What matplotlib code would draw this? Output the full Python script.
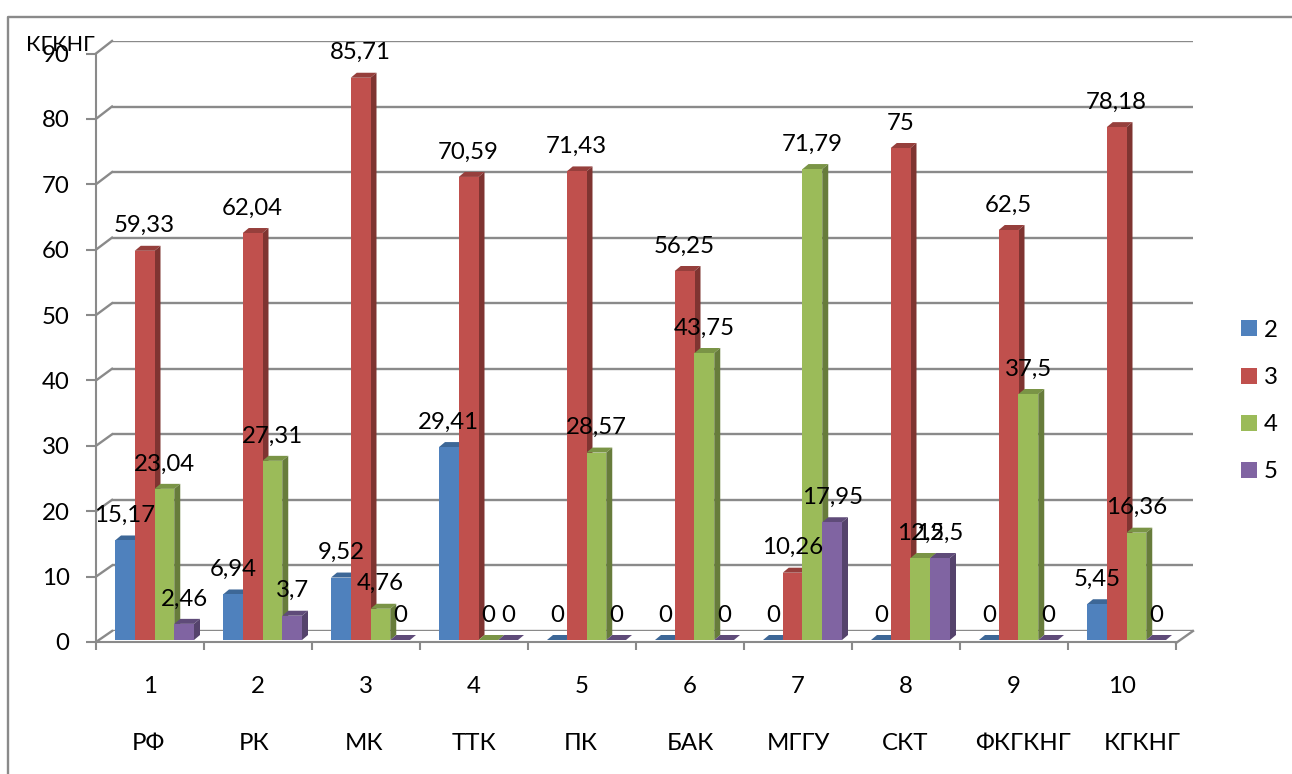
import numpy as np
import matplotlib
matplotlib.use("Agg")
import matplotlib.pyplot as plt

plt.rcParams['font.family'] = ['Lato', 'Noto Sans', 'DejaVu Sans']

W, H = 1292, 774
FS = 17.3

numbers = ["1", "2", "3", "4", "5", "6", "7", "8", "9", "10"]
names = ["РФ", "РК", "МК", "ТТК", "ПК", "БАК", "МГГУ", "СКТ", "ФКГКНГ", "КГКНГ"]
series_names = ["2", "3", "4", "5"]
grade_2 = [15.17, 6.94, 9.52, 29.41, 0, 0, 0, 0, 0, 5.45]
grade_3 = [59.33, 62.04, 85.71, 70.59, 71.43, 56.25, 10.26, 75, 62.5, 78.18]
grade_4 = [23.04, 27.31, 4.76, 0, 28.57, 43.75, 71.79, 12.5, 37.5, 16.36]
grade_5 = [2.46, 3.7, 0, 0, 0, 0, 17.95, 12.5, 0, 0]
y_ticks = [0, 10, 20, 30, 40, 50, 60, 70, 80, 90]

# the names row was typed by hand in the source chart, so it does not sit on the categories
name_px = [148, 254, 364, 474, 581, 690, 798, 905, 1023, 1142]

front_cols = ["#4F81BD", "#C0504D", "#9BBB59", "#8064A2"]
side_cols = ["#385D8A", "#7F3431", "#677C3B", "#55436C"]
top_cols = ["#3D6797", "#963F3C", "#7A9446", "#5F4B79"]
line_col = "#8A8A8A"


def axes_from_pixels(fig, left, right, top, bottom):
    # axes rectangle given in picture pixels (y counted from the top)
    return fig.add_axes([left / W, (H - bottom) / H, (right - left) / W, (bottom - top) / H])


fig = plt.figure(figsize=(W / 100, H / 100), dpi=100)

# pixel layer: outer frame, floor and the slanted wall lines
bg = fig.add_axes([0, 0, 1, 1])
bg.set_xlim(0, W)
bg.set_ylim(H, 0)
bg.axis("off")
bg.plot([8, 8, W], [H, 17, 17], color=line_col, lw=1.7)
bg.fill([96, 1176, 1193, 112], [643, 643, 631, 631], color="white")
bg.plot([1176, 1193], [643, 631], color=line_col, lw=1.7)
for v in y_ticks:
    bg.plot([96, 112], [642 - v * 6.539, 631 - v * 6.556], color=line_col, lw=1.7)
for px, name in zip(name_px, names):
    bg.text(px, 743, name, ha="center", va="center", fontsize=FS)

# back wall with the gridlines
back = axes_from_pixels(fig, 112, 1193, 41, 631)
back.patch.set_alpha(0)
back.set_ylim(0, 90)
back.set_yticks(y_ticks)
back.set_xticks([])
back.tick_params(left=False, labelleft=False)
back.grid(axis="y", color=line_col, lw=1.7)
for s in back.spines.values():
    s.set_visible(False)

# front axis with the tick marks and labels
front = axes_from_pixels(fig, 96, 1176, 53.5, 642)
front.patch.set_alpha(0)
front.set_xlim(0, 10)
front.set_ylim(0, 90)
front.set_yticks(y_ticks)
front.set_xticks(range(11))
front.set_xticklabels([])
front.set_xticks(np.arange(10) + 0.5, numbers, minor=True)
front.tick_params(axis="x", which="major", length=6, width=1.5, color=line_col)
front.tick_params(axis="x", which="minor", length=0, pad=24.5, labelsize=FS)
front.tick_params(axis="y", length=7, width=1.5, color=line_col, pad=12, labelsize=FS)
for s in ["top", "right"]:
    front.spines[s].set_visible(False)
for s in ["left", "bottom"]:
    front.spines[s].set_color(line_col)
    front.spines[s].set_linewidth(1.5)

# bars
ax = axes_from_pixels(fig, 96, 1176, 640 - 90 * 6.56, 640)
ax.patch.set_alpha(0)
ax.axis("off")
ax.set_xlim(0, 10)
ax.set_ylim(0, 90)

x = np.arange(10)
bar_w = 19.75 / 108
first = 19 / 108
dx = 6 / 108
dy = 5 / 6.56

handles = []
for i, vals in enumerate([grade_2, grade_3, grade_4, grade_5]):
    z = 2 + i
    left = x + first + i * bar_w
    bars = ax.bar(left + bar_w / 2, vals, bar_w, color=front_cols[i], zorder=z + 0.5, clip_on=False)
    handles.append(bars)
    for x0, v in zip(left, vals):
        x1 = x0 + bar_w
        ax.fill([x0, x1, x1 + dx, x0 + dx], [v, v, v + dy, v + dy],
                color=top_cols[i], lw=0, zorder=z, clip_on=False)
        ax.fill([x1, x1 + dx, x1 + dx, x1], [0, dy, v + dy, v],
                color=side_cols[i], lw=0, zorder=z, clip_on=False)
        ax.annotate(f"{v:g}".replace(".", ","), (x0 + bar_w / 2, v), xytext=(0, 18),
                    textcoords="offset points", ha="center", va="center",
                    fontsize=FS, color="black", zorder=20, annotation_clip=False)

fig.text(60.5 / W, 1 - 45 / H, "КГКНГ", ha="center", va="center", fontsize=15.5)

ax.legend(handles, series_names, loc="upper left", bbox_to_anchor=(1236.5 / W, 1 - 315 / H),
          bbox_transform=fig.transFigure, frameon=False, fontsize=FS,
          handlelength=0.65, handleheight=0.65, handletextpad=0.3, labelspacing=1.09,
          borderpad=0.2, borderaxespad=0)

fig.savefig("out.png", dpi=100)
